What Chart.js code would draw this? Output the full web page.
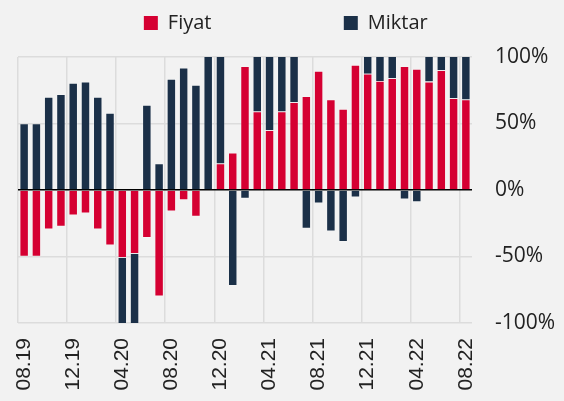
<!DOCTYPE html>
<html>
<head>
<meta charset="utf-8">
<script src="https://cdn.jsdelivr.net/npm/chart.js@4/dist/chart.umd.min.js"></script>
<style>
  html, body { margin: 0; padding: 0; background: #f2f2f2; }
  #wrap { width: 564px; height: 401px; position: relative; }
</style>
</head>
<body>
<div id="wrap"><canvas id="c"></canvas></div>
<script>
const months = ['08.19','09.19','10.19','11.19','12.19','01.20','02.20','03.20','04.20','05.20','06.20','07.20',
  '08.20','09.20','10.20','11.20','12.20','01.21','02.21','03.21','04.21','05.21','06.21','07.21',
  '08.21','09.21','10.21','11.21','12.21','01.22','02.22','03.22','04.22','05.22','06.22','07.22','08.22'];
const fiyat = [-50, -50, -29.5, -27.5, -19, -17.5, -29.5, -41.5, -51, -48, -36, -80,
  -16, -7.5, -20, 0, 20, 28, 93, 59, 45, 59, 66, 70.5,
  89.5, 68, 61, 94, 87.5, 82, 84, 93, 91, 81.5, 90, 69, 68];
const miktar = [50, 50, 70, 72, 80.5, 81.5, 70, 58, -60, -62, 64, 20,
  83.5, 92, 79, 105, 85, -72, -6.5, 45, 60, 48, 40, -29,
  -10, -31, -39, -5.5, 20, 25, 22, -7, -9, 30, 15, 40, 42];
const yTicks = [-100, -50, 0, 50, 100];
const seriesNames = ['Fiyat', 'Miktar'];
const colors = ['#d50032', '#1b3048'];

const legendSpace = {
  id: 'legendSpace',
  afterInit(chart) {
    const lg = chart.legend;
    if (!lg) return;
    const f = lg.fit.bind(lg);
    lg.fit = function () { f(); this.height += 14; };
  }
};

const ctx = document.getElementById('c');
new Chart(ctx, {
  type: 'bar',
  plugins: [legendSpace],
  data: {
    labels: months,
    datasets: [
      { label: seriesNames[0], data: fiyat, backgroundColor: colors[0], borderColor: 'rgba(255,255,255,0.3)', borderWidth: 0.8 },
      { label: seriesNames[1], data: miktar, backgroundColor: colors[1], borderColor: 'rgba(255,255,255,0.3)', borderWidth: 0.8 }
    ]
  },
  options: {
    responsive: true,
    maintainAspectRatio: false,
    animation: false,
    datasets: { bar: { categoryPercentage: 1.0, barPercentage: 0.74 } },
    layout: { padding: { top: 3, right: 0, bottom: 0, left: 18 } },
    plugins: {
      tooltip: { enabled: false },
      legend: {
        position: 'top',
        labels: {
          font: { family: 'Open Sans', size: 20 },
          color: '#222',
          boxWidth: 14,
          boxHeight: 14,
          padding: 10,
          generateLabels: (chart) => {
            const items = Chart.defaults.plugins.legend.labels.generateLabels(chart);
            items.forEach(it => { it.lineWidth = 0; it.strokeStyle = it.fillStyle; });
            items[1].text = items[1].text + '  ';
            const spacer = { text: ' '.repeat(17), fillStyle: 'rgba(0,0,0,0)', strokeStyle: 'rgba(0,0,0,0)', lineWidth: 0, hidden: false, datasetIndex: -1 };
            return [items[0], spacer, items[1]];
          }
        }
      }
    },
    scales: {
      x: {
        stacked: true,
        offset: true,
        afterFit: (axis) => { axis.height = 78; },
        grid: {
          offset: true,
          drawTicks: false,
          color: (c) => (c.index % 4 === 0 ? '#dcdcdc' : 'rgba(0,0,0,0)'),
          lineWidth: 1.5
        },
        border: { display: false },
        ticks: {
          autoSkip: false,
          maxRotation: 90,
          minRotation: 90,
          padding: 15,
          color: '#222',
          font: { family: 'Liberation Sans', size: 21 },
          callback: function (v, i) { return i % 4 === 0 ? months[i] : ''; }
        }
      },
      y: {
        stacked: true,
        position: 'right',
        min: -100,
        max: 100,
        afterFit: (axis) => { axis.width = 92; },
        afterBuildTicks: (axis) => { axis.ticks = yTicks.map(v => ({ value: v })); },
        grid: {
          drawTicks: false,
          color: (c) => (c.tick && c.tick.value === 0 ? '#000' : '#dcdcdc'),
          lineWidth: 1.5
        },
        border: { display: false },
        ticks: {
          padding: 23,
          color: '#222',
          font: { family: 'Open Sans', size: 21 },
          callback: (v) => v + '%'
        }
      }
    }
  }
});
</script>
</body>
</html>
